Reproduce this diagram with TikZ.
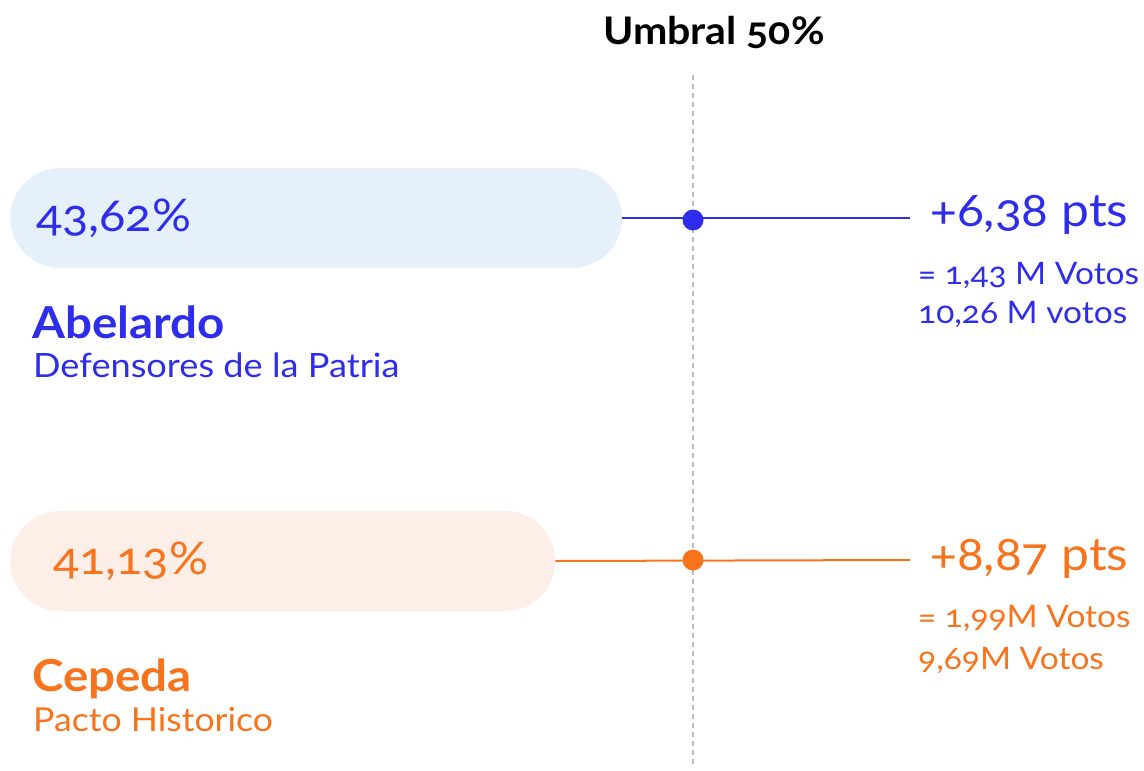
\documentclass[tikz,border=0pt]{standalone}
\usepackage{fontspec}
\setmainfont{Lato}[Numbers=OldStyle, FakeStretch=1.08]
\definecolor{cblue}{HTML}{2D2DEB}
\definecolor{corange}{HTML}{F7731C}
\definecolor{pillblue}{HTML}{E5F0FA}
\definecolor{pillorange}{HTML}{FDEEE7}
\definecolor{dashgray}{HTML}{BDBDBD}
\begin{document}
\begin{tikzpicture}[x=1pt,y=-1pt,
  pill/.style={rectangle, rounded corners=50pt, minimum height=100pt, inner sep=0pt, anchor=west},
  txt/.style={inner sep=0pt, anchor=base west},
  dotnode/.style={circle, inner sep=0pt, minimum size=21pt},
  conn/.style={line width=2pt}
]
\useasboundingbox (0,0) rectangle (1144,771);
% threshold
\node[txt, font=\fontsize{38}{45}\selectfont\bfseries] (umbral) at (603,44) {Umbral 50\%};
\coordinate (dtop) at (693,75);
\coordinate (dbot) at (693,765);
\draw[dashgray, line width=1.5pt, dash pattern=on 5pt off 4pt] (dtop) -- (dbot);

% Abelardo
\node[pill, fill=pillblue, minimum width=612pt] (p1) at (10,218) {};
\node[txt, text=cblue, font=\fontsize{45}{54}\selectfont] (v1) at (36,231) {43,62\%};
\node[dotnode, fill=cblue] (d1) at (693,220) {};
\coordinate (e1) at (910,218);
\draw[conn, cblue] (p1.east) -- (e1);
\node[txt, text=cblue, font=\fontsize{46}{55}\selectfont] (g1) at (930,226) {+6,38 pts};
\node[txt, text=cblue, font=\fontsize{31}{37}\selectfont] (s1) at (918,284) {= 1,43 M Votos};
\node[txt, text=cblue, font=\fontsize{31}{37}\selectfont] (t1) at (918,323) {10,26 M votos};
\node[txt, text=cblue, font=\fontsize{44}{52}\selectfont\bfseries] (n1) at (32,338) {Abelardo};
\node[txt, text=cblue, font=\fontsize{33.5}{40}\selectfont] (q1) at (33,377) {Defensores de la Patria};

% Cepeda
\node[pill, fill=pillorange, minimum width=545pt] (p2) at (10,561) {};
\node[txt, text=corange, font=\fontsize{45}{54}\selectfont] (v2) at (53,574) {41,13\%};
\node[dotnode, fill=corange] (d2) at (693,560) {};
\coordinate (e2) at (910,560);
\draw[conn, corange] (p2.east) -- (e2);
\node[txt, text=corange, font=\fontsize{46}{55}\selectfont] (g2) at (930,570) {+8,87 pts};
\node[txt, text=corange, font=\fontsize{31}{37}\selectfont] (s2) at (918,627) {= 1,99M Votos};
\node[txt, text=corange, font=\fontsize{31}{37}\selectfont] (t2) at (918,669) {9,69M Votos};
\node[txt, text=corange, font=\fontsize{44}{52}\selectfont\bfseries] (n2) at (32,691) {Cepeda};
\node[txt, text=corange, font=\fontsize{33}{40}\selectfont] (q2) at (33,731) {Pacto Historico};
\end{tikzpicture}
\end{document}
